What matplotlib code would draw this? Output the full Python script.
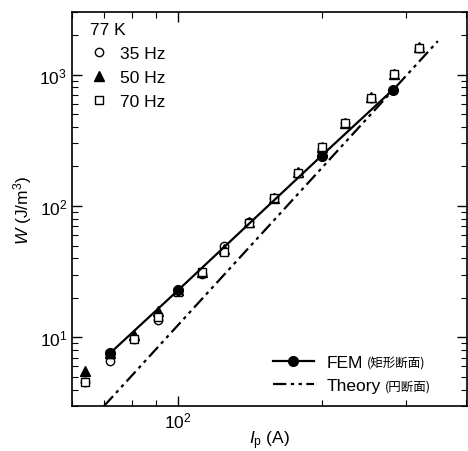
import matplotlib
matplotlib.use("Agg")
import matplotlib.pyplot as plt
from matplotlib.ticker import LogLocator, NullFormatter

plt.rcParams['font.family'] = ['Liberation Sans', 'Noto Sans CJK JP', 'DejaVu Sans']
plt.rcParams['mathtext.fontset'] = 'custom'
plt.rcParams['mathtext.rm'] = 'Liberation Sans'
plt.rcParams['mathtext.it'] = 'Liberation Sans:italic'

# measured data (peak current in A, loss in J/m^3)
I_meas = [64, 72, 81, 91, 100, 112, 125, 141, 159, 178, 200, 224, 254, 284, 320]
W_35hz = [4.6, 6.6, 9.7, 13.5, 22.8, 30.5, 50, 76, 116, 178, 270, 428, 665, 1005, 1600]
W_50hz = [5.5, 7.6, 10.4, 15.8, 22.8, 31.5, 47, 76, 116, 180, 280, 432, 670, 1010, 1610]
W_70hz = [4.6, 7.4, 9.7, 14.2, 22.3, 31.2, 45, 74, 114, 178, 283, 431, 668, 1010, 1590]

# FEM (rectangular cross-section)
I_fem = [72, 100, 200, 282]
W_fem = [7.55, 22.8, 242, 769]

# theory (circular cross-section)
I_theory = [70, 350]
W_theory = [3.0, 1800]

fig = plt.figure(figsize=(4.68, 4.52), dpi=100)
ax = fig.add_axes([0.154, 0.0996, 0.844, 0.8717])

h35, = ax.plot(I_meas, W_35hz, 'o', mfc='white', mec='black', ms=6, mew=1.0, ls='none')
h50, = ax.plot(I_meas, W_50hz, '^', mfc='black', mec='black', ms=6.5, ls='none')
h70, = ax.plot(I_meas, W_70hz, 's', mfc='white', mec='black', ms=5.5, mew=1.0, ls='none')
hfem, = ax.plot(I_fem, W_fem, '-o', color='black', lw=1.6, ms=7)
hth, = ax.plot(I_theory, W_theory, color='black', lw=1.6, dashes=(6, 2, 1.5, 2, 1.5, 2))

ax.set_xscale('log')
ax.set_yscale('log')
ax.set_xlim(60, 403)
ax.set_ylim(3, 3000)

ax.xaxis.set_minor_locator(LogLocator(base=10, subs=range(2, 10)))
ax.xaxis.set_minor_formatter(NullFormatter())
ax.yaxis.set_minor_locator(LogLocator(base=10, subs=range(2, 10)))
ax.yaxis.set_minor_formatter(NullFormatter())
ax.tick_params(which='both', direction='in', top=True, right=True, labelsize=12.5)
ax.tick_params(which='major', length=7, width=1)
ax.tick_params(which='minor', length=4, width=0.8)
for s in ax.spines.values():
    s.set_linewidth(1.2)

ax.set_xlabel(r'$I_\mathrm{p}$ (A)', fontsize=12.5, labelpad=-2)
ax.set_ylabel(r'$W$ (J/m$^3$)', fontsize=12.5, labelpad=4)

leg1 = ax.legend([h35, h50, h70], ['35 Hz', '50 Hz', '70 Hz'], title='77 K',
                 loc='upper left', frameon=False, fontsize=12.5, title_fontsize=12.5,
                 handlelength=1.0, handletextpad=0.7, labelspacing=0.5,
                 alignment='left', borderaxespad=0.2, bbox_to_anchor=(0.02, 1.0))
ax.add_artist(leg1)

leg2 = ax.legend([hfem, hth], ['FEM', 'Theory'], loc='lower left', frameon=False,
                 fontsize=12.5, handlelength=2.4, handletextpad=0.7, labelspacing=0.45,
                 borderaxespad=0, bbox_to_anchor=(0.49, 0.015))
fig.canvas.draw()
notes = ['(矩形断面)', '(円断面)']
for txt, note in zip(leg2.get_texts(), notes):
    ax.annotate(note, xy=(1, 0.45), xycoords=txt, xytext=(3, 0), textcoords='offset points',
                va='center', ha='left', fontsize=9,
                family=['Noto Sans CJK JP', 'DejaVu Sans'])

fig.savefig('out.png', dpi=100)
